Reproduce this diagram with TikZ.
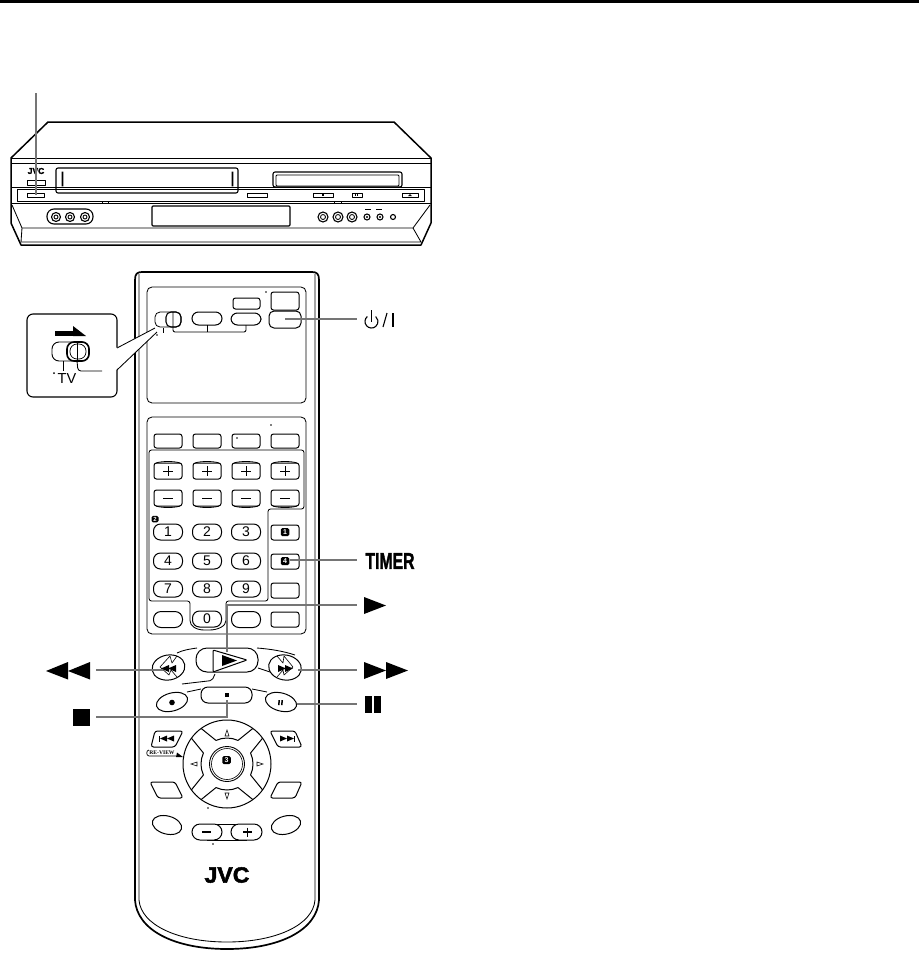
\documentclass[tikz,border=0pt]{standalone}
\usepackage{fontspec}
\usepackage{graphicx}
\setmainfont{Liberation Sans}
\newfontfamily\seriffont{Liberation Serif}
\newfontfamily\heavyfont[BoldFeatures={FakeBold=2.2}]{Liberation Sans}
\definecolor{leader}{HTML}{757575}
\tikzset{
  x=1pt,y=-1pt,
  ln/.style={draw=black,line width=0.85pt,line join=round},
  hv/.style={draw=black,line width=1.5pt,line join=round},
  lead/.style={draw=leader,line width=2.4pt},
  rb/.style={draw=black,line width=1pt,rounded corners=2.5pt},
  digit/.style={font=\fontsize{14}{14}\selectfont,inner sep=0pt},
  numtag/.style={fill=black,text=white,font=\fontsize{7}{7}\bfseries\selectfont,inner sep=0pt,minimum width=8.5pt,minimum height=8pt,rounded corners=1.5pt},
}
\newcommand{\ovalb}[5]{\draw[line width=1pt,draw=black,fill=white,rotate around={#5:(#1,#2)}] (#1,#2) ellipse [x radius=#3pt,y radius=#4pt];}
\newcommand{\pillb}[4]{\draw[line width=1pt,draw=black,rounded corners=6.5pt] (#1,#2) rectangle (#3,#4);}
\begin{document}
\begin{tikzpicture}
\useasboundingbox (0,0) rectangle (919,954);
\fill[white] (0,0) rectangle (919,954);
% top rule
\fill[black] (0,0) rectangle (919,2.6);

% ---------- VCR ----------
\draw[hv] (48,122) -- (394,122) -- (431,158) -- (431,223) -- (421,245) -- (21,245) -- (11,223) -- (11,158) -- cycle;
\draw[ln] (11,158) -- (431,158);
\draw[ln] (11,163) -- (431,163);
\draw[ln] (11,187) -- (431,187);
\draw[ln] (11,203) -- (431,203);
\draw[hv,line width=1pt] (17,189) rectangle (424,201);
\draw[ln] (12,205) -- (22,228) -- (413,228) -- (430,205);
\draw[ln] (22,228) -- (21,242) -- (421,242) -- (413,228);
\draw[ln,line width=1.1pt,rounded corners=2pt] (56,168) rectangle (238,193);
\draw[ln,rounded corners=1pt] (62,172) rectangle (63,186);
\draw[ln,rounded corners=1pt] (232,172) rectangle (233,186);
\draw[ln,line width=1.1pt,rounded corners=2pt] (273,172) rectangle (402,187);
\draw[ln,rounded corners=1pt] (276,175) rectangle (399,186);
\node[inner sep=0pt] (vcrlogo) at (36,171) {\heavyfont\bfseries\fontsize{8.5}{8.5}\selectfont JVC};
\draw[ln] (27,180) rectangle (45,185);
\draw[ln] (27,193) rectangle (44,197);
\draw[ln] (247,193) rectangle (267,197);
\draw[ln] (313,193) rectangle (333,197);
\draw[ln] (352,193) rectangle (362,197);
\draw[ln] (402,193) rectangle (418,197);
\fill (322,194) rectangle (324,196);
\fill (355,194) rectangle (356,196);\fill (357,194) rectangle (358,196);
\fill (408,196) -- (410,194) -- (412,196) -- cycle;
\draw[ln] (102,201) rectangle (108,203);
\draw[ln] (334,201) rectangle (341,203);
\draw[ln,line width=1.1pt,rounded corners=1pt] (152,206) rectangle (290,226);
\draw[ln,line width=1.1pt,rounded corners=7pt] (47,209) rectangle (93,224);
\foreach \xx in {56,70,85}{\draw[ln,line width=1.1pt] (\xx,217) circle [radius=4.5pt];\draw[ln] (\xx,217) circle [radius=2pt];}
\foreach \xx in {323,338,352}{\draw[ln,line width=1.1pt] (\xx,217) circle [radius=5pt];\draw[ln] (\xx,217) circle [radius=2.5pt];}
\foreach \xx in {367,380}{\draw[ln,line width=1.1pt] (\xx,217) circle [radius=3pt];\fill (\xx,217) circle [radius=1.2pt];}
\draw[ln,line width=1.1pt] (393,217) circle [radius=2.5pt];
\draw[ln] (365,209) -- (371,209);
\draw[ln] (376,209) -- (382,209);
\coordinate (vcrtop) at (36,93);
\coordinate (vcrbtn) at (36,195);
\draw[lead] (vcrtop) -- (vcrbtn);

% ---------- Remote body ----------
\draw[hv,line width=1.7pt,fill=white] (135,280) .. controls (135,274) and (137,272) .. (142,272) -- (312,272) .. controls (317,272) and (319,274) .. (319,280) -- (319,900) .. controls (317,930) and (280,949) .. (227,949) .. controls (174,949) and (137,930) .. (135,900) -- cycle;
\draw[ln] (139,274) -- (139,900) .. controls (141,925) and (178,942) .. (227,942) .. controls (276,942) and (313,925) .. (315,900) -- (315,274);
\draw[ln,rounded corners=5pt] (147,287) rectangle (306,403);
\draw[ln,rounded corners=5pt] (147,417) rectangle (306,634);
\draw[ln,rounded corners=2.5pt] (149,450) -- (304,450) -- (304,509) -- (268,509) -- (268,601) -- (226,601) -- (226,618) .. controls (226,626) and (218,630) .. (207,630) .. controls (196,630) and (190,626) .. (190,618) -- (190,601) -- (149,601) -- cycle;

% top panel
\draw[rb] (233,298) rectangle (260,309);
\draw[rb] (271,292) rectangle (299,310);
\draw[line width=1pt,rounded corners=5pt] (269,311) rectangle (301,328);
\pillb{231}{313}{261}{325}
\pillb{192}{312}{222}{325}
\draw[line width=0.8pt,rounded corners=5pt] (155,312) rectangle (181,327);
\draw[line width=1.1pt,rounded corners=5pt] (166,312) rectangle (181,327);
\draw[ln,rounded corners=2pt] (173,312) -- (173,332) -- (246,332) -- (246,325);
\draw[ln] (207,325) -- (207,332);
\draw[ln] (163,328) -- (163,333);
\foreach \p in {(157,335),(266,292),(271,425),(237,438),(208,808),(213,844)}{\fill \p circle [radius=0.9pt];}

% inset
\draw[ln,line width=1.1pt,rounded corners=6pt,fill=white] (27,314) rectangle (117,397);
\fill[white] (116,348) -- (155,328) -- (157,332) -- (116,370) -- cycle;
\draw[ln] (117,348) -- (155,328);
\draw[ln] (117,370) -- (157,332);
\fill (55,331) rectangle (73,336);
\fill (73,326) -- (86,336) -- (73,336) -- cycle;
\draw[line width=0.9pt,rounded corners=7pt] (52,342) rectangle (89,361);
\draw[line width=1.6pt,rounded corners=7pt] (67,342) rectangle (89,361);
\draw[line width=0.7pt,rounded corners=7pt] (70,344) rectangle (86,359);
\draw[ln] (77,342) -- (77,361);
\draw[ln,rounded corners=3pt] (77,361) -- (78,371) -- (102,371);
\draw[ln] (63,361) -- (63,371);
\fill (54,373) circle [radius=1pt];
\node[inner sep=0pt,font=\fontsize{14.5}{15}\selectfont] (tvlabel) at (67,379) {TV};

% buttons row
\foreach \xa/\xb in {154/182,193/221,232/260,271/299}{
  \draw[rb] (\xa,434) rectangle (\xb,448);
  \draw[rb] (\xa,463) rectangle (\xb,479);
  \draw[ln] (\xa+2,463) .. controls (\xa+8,461) and (\xb-8,461) .. (\xb-2,463);
  \draw[rb] (\xa,490) rectangle (\xb,506);
  \draw[ln] (\xa+2,506) .. controls (\xa+8,508) and (\xb-8,508) .. (\xb-2,506);
  \draw[ln] ({(\xa+\xb)/2-5},471) -- ({(\xa+\xb)/2+5},471) ({(\xa+\xb)/2},466) -- ({(\xa+\xb)/2},476);
  \draw[ln] ({(\xa+\xb)/2-5},498) -- ({(\xa+\xb)/2+5},498);
}
% digits
\foreach \nm/\xx/\yy in {1/168/532,2/207/532,3/246/532,4/168/561,5/207/561,6/246/561,7/168/589,8/207/589,9/246/589,0/207/619}{
  \draw[line width=1pt,rounded corners=7pt] (\xx-14.5,\yy-8) rectangle (\xx+14.5,\yy+8);
  \node[digit] (d\nm) at (\xx,\yy) {\nm};
}
\draw[line width=1pt,rounded corners=7.5pt] (153.5,611.5) rectangle (182.5,627.5);
\draw[line width=1pt,rounded corners=7.5pt] (231.5,611.5) rectangle (260.5,627.5);
\foreach \ya/\yb in {525/540,554/569,583/598,612/627}{\draw[rb] (271,\ya) rectangle (299,\yb);}
\node[numtag,minimum width=7pt,minimum height=6.5pt,font=\fontsize{6}{6}\bfseries\selectfont] (tag2) at (155,519) {2};
\node[numtag] (tag1) at (285,532) {1};
\node[numtag] (tag4) at (285,561) {4};

% transport
\draw[ln] (177,653) .. controls (183,650) and (190,649) .. (197,648);
\draw[ln] (257,648) .. controls (270,649) and (283,651) .. (295,655);
\draw[ln,rounded corners=2pt] (182,684) -- (212,680.5) -- (215,674);
\draw[ln] (258,668) -- (270,672);
\draw[line width=1pt,rounded corners=11pt,fill=white] (196,648) rectangle (258,672);
\draw[ln,line width=1pt,rounded corners=1pt] (213,650) -- (247,660) -- (213,672) -- cycle;
\fill (222,655) -- (237,660.5) -- (222,666) -- cycle;
\ovalb{168.5}{667.5}{16.5}{12.5}{10}
\ovalb{285}{667.5}{16.5}{12.5}{-10}
\draw[ln,line width=0.6pt] (177,656) -- (172,663) -- (170,656) -- (160,667) -- (169,675) -- (171,670) -- (177,677);
\draw[ln,line width=0.6pt] (277,656) -- (283,663) -- (284,656) -- (293,667) -- (284,675) -- (283,670) -- (277,677);
\fill (176,665) -- (168,668.5) -- (176,672) -- cycle;
\fill (169,665) -- (161,668.5) -- (169,672) -- cycle;
\fill (278,665) -- (286,668.5) -- (278,672) -- cycle;
\fill (285,665) -- (293,668.5) -- (285,672) -- cycle;
\draw[ln] (187,692) -- (201,689);
\draw[ln] (252,689) -- (267,692);
\ovalb{172}{702}{16}{9}{15}
\fill (172,702.5) circle [radius=2.8pt];
\draw[line width=1pt,rounded corners=7pt,fill=white] (201,687) rectangle (252,703);
\fill (225,693) rectangle (229,697);
\ovalb{281}{702}{16}{9}{-15}
\fill (278.5,700) -- (280,700) -- (279.5,705) -- (278,705) -- cycle;
\fill (281.5,700) -- (283,700) -- (282.5,705) -- (281,705) -- cycle;
% review skip
\draw[ln,line width=1pt,rounded corners=2.5pt] (155,731) -- (183,731) -- (175,747) -- (151,747) -- cycle;
\draw[ln,line width=1pt,rounded corners=2.5pt] (270,731) -- (295,731) -- (302,747) -- (278,747) -- cycle;
\draw[ln,line width=1pt,rounded corners=2.5pt] (150,782) -- (175,782) -- (183,798) -- (158,798) -- cycle;
\draw[ln,line width=1pt,rounded corners=2.5pt] (278,782) -- (302,782) -- (295,798) -- (270,798) -- cycle;
\fill (159,735.5) rectangle (160,741.5);
\fill (160,738.5) -- (167,735.5) -- (167,741.5) -- cycle;
\fill (167,738.5) -- (174,735.5) -- (174,741.5) -- cycle;
\fill (280,735.5) -- (287,738.5) -- (280,741.5) -- cycle;
\fill (287,735.5) -- (294,738.5) -- (287,741.5) -- cycle;
\fill (294,735.5) rectangle (295,741.5);
\node[inner sep=0pt] (review) at (162,752.5) {\seriffont\bfseries\fontsize{5.6}{6}\selectfont RE-VIEW};
\draw[ln,line width=0.7pt] (149,750) .. controls (146,750) and (146,756) .. (149,756) -- (176,756);
\fill (176,757) -- (183,757) -- (177,752.5) -- cycle;
% d-pad
\coordinate (pad) at (227,764);
\draw[line width=1pt] (pad) circle [radius=44pt];
\draw[line width=0.9pt] (pad) circle [radius=17.5pt];
\draw[line width=0.6pt] (pad) circle [radius=15.5pt];
\foreach \a in {0,90,180,270}{
  \draw[line width=1pt,line join=round] ([shift={(\a+36:44pt)}]pad) -- ([shift={(\a+25:26pt)}]pad) arc [start angle=\a+25,end angle=\a-25,radius=26pt] -- ([shift={(\a-36:44pt)}]pad);
}
\draw[line width=0.6pt] (225,736) -- (227,730) -- (229,736) -- cycle;
\draw[line width=0.6pt] (225,793) -- (227,799) -- (229,793) -- cycle;
\draw[line width=0.6pt] (197,762) -- (191,764) -- (197,766) -- cycle;
\draw[line width=0.6pt] (257,762) -- (263,764) -- (257,766) -- cycle;
\node[numtag] (tag3) at (226.5,760) {3};
\ovalb{167}{825}{15}{9}{-15}
\ovalb{286}{825}{15}{9}{15}
\draw[ln] (205,824) -- (249,824);
\draw[ln] (207,840) -- (247,840);
\draw[line width=1pt,rounded corners=8pt,fill=white] (192,824) rectangle (222,840);
\draw[line width=1pt,rounded corners=8pt,fill=white] (231,824) rectangle (262,840);
\draw[line width=1.3pt] (202,832) -- (211,832);
\draw[line width=1.3pt] (243,832) -- (252,832) (247.5,827.5) -- (247.5,836.5);
\node[inner sep=0pt] (logo) at (227,875) {\scalebox{1.05}[1]{\heavyfont\bfseries\fontsize{22}{22}\selectfont JVC}};

% ---------- leaders and symbols ----------
\coordinate (ldpwr) at (285,319);
\coordinate (ldpwrE) at (357,319);
\draw[lead] (ldpwr) -- (ldpwrE);
\coordinate (pwrc) at (371.5,321.5);
\draw[line width=1.1pt] ([shift={(130:6.5pt)}]pwrc) arc [start angle=130,end angle=410,radius=6.5pt];
\draw[line width=1.1pt] (371.5,310) -- (371.5,322);
\draw[line width=1.1pt] (383,327) -- (387,313);
\draw[line width=1.2pt] (393,313) -- (393,327);

\node[inner sep=0pt,anchor=center] (timer) at (390,561) {\scalebox{0.75}[1.08]{\heavyfont\bfseries\fontsize{21}{21}\selectfont TIMER}};
\coordinate (ldtimer) at (290,560);
\coordinate (ldtimerE) at (357,560);
\draw[lead] (ldtimer) -- (ldtimerE);

\coordinate (symplay) at (357,605);
\coordinate (btnplay) at (227,652);
\draw[lead] (btnplay) -- (227,605) -- (symplay);
\fill (364,597) -- (386,605.5) -- (364,614) -- cycle;

\coordinate (symff) at (357,670);
\coordinate (btnff) at (298,670);
\draw[lead] (btnff) -- (symff);
\fill (364,662) -- (386,670.5) -- (364,679) -- cycle;
\fill (386,662) -- (408,670.5) -- (386,679) -- cycle;

\coordinate (sympause) at (357,704);
\coordinate (btnpause) at (297,704);
\draw[lead] (btnpause) -- (sympause);
\fill (365,696) rectangle (372,713);
\fill (374,696) rectangle (381,713);

\coordinate (symrew) at (96,670);
\coordinate (btnrew) at (163,670);
\draw[lead] (symrew) -- (btnrew);
\fill (68,671) -- (90,662) -- (90,679.5) -- cycle;
\fill (46,671) -- (68,662) -- (68,679.5) -- cycle;

\coordinate (symstop) at (96,717);
\coordinate (btnstop) at (227,700);
\draw[lead] (symstop) -- (227,717) -- (btnstop);
\fill (73,709) rectangle (90,726);
\end{tikzpicture}
\end{document}
